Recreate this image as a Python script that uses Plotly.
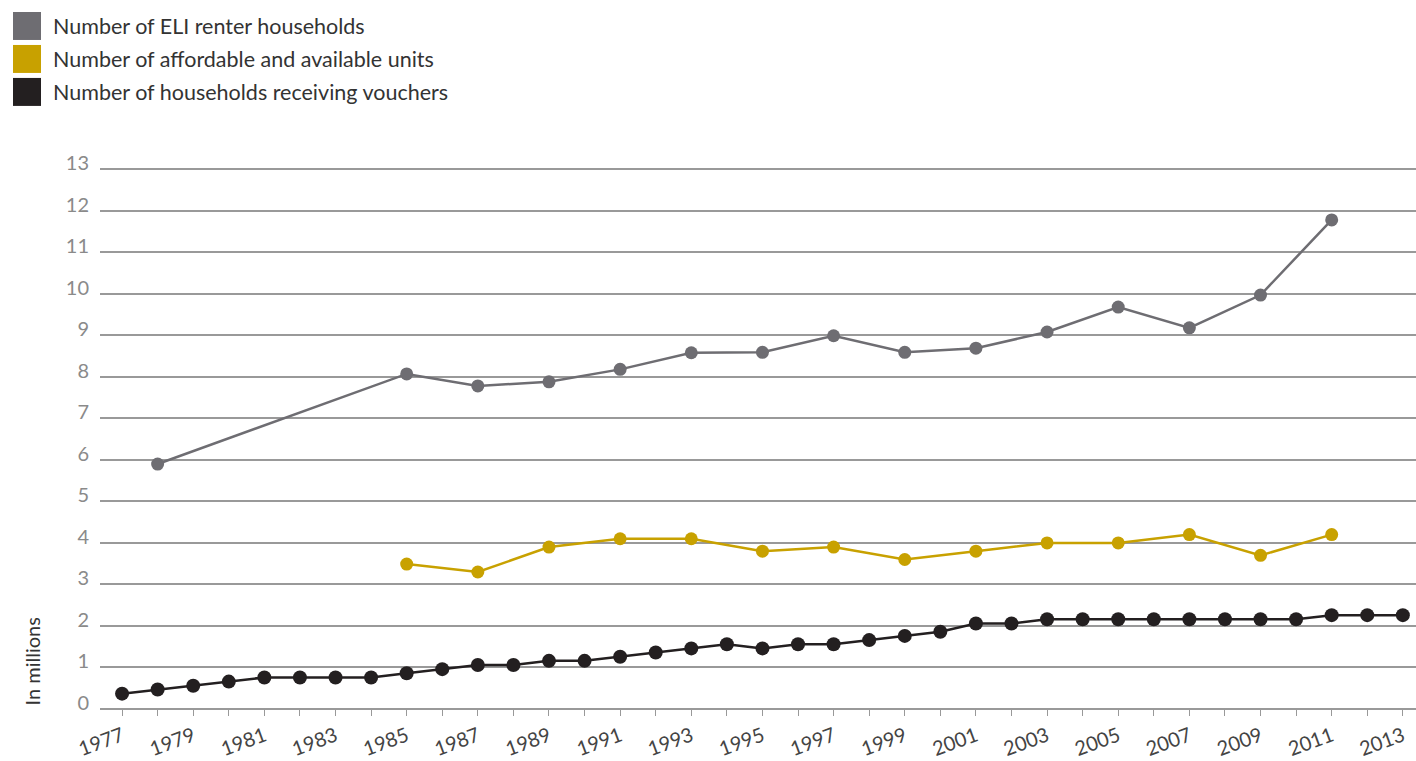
import plotly.graph_objects as go

# ---- data ----
voucher_years = list(range(1977, 2014))
voucher_vals = [0.37, 0.47, 0.56, 0.66, 0.76, 0.76, 0.76, 0.76, 0.86, 0.96,
                1.06, 1.06, 1.16, 1.16, 1.26, 1.36, 1.46, 1.56, 1.46, 1.56,
                1.56, 1.66, 1.76, 1.86, 2.06, 2.06, 2.16, 2.16, 2.16, 2.16,
                2.16, 2.16, 2.16, 2.16, 2.26, 2.26, 2.26]

eli_years = [1978, 1985, 1987, 1989, 1991, 1993, 1995, 1997, 1999, 2001, 2003, 2005, 2007, 2009, 2011]
eli_vals = [5.9, 8.07, 7.78, 7.88, 8.18, 8.58, 8.59, 8.99, 8.59, 8.69, 9.08, 9.68, 9.18, 9.97, 11.78]

afford_years = [1985, 1987, 1989, 1991, 1993, 1995, 1997, 1999, 2001, 2003, 2005, 2007, 2009, 2011]
afford_vals = [3.49, 3.3, 3.9, 4.1, 4.1, 3.8, 3.9, 3.6, 3.8, 4.0, 4.0, 4.2, 3.7, 4.2]

series_names = ["Number of ELI renter households",
                "Number of affordable and available units",
                "Number of households receiving vouchers"]
colors = ["#6e6d72", "#c8a100", "#231f20"]

FONT = "Lato, 'Open Sans', sans-serif"

PX_PER_UNIT = 41.55
PLOT_BOT = 709.5
Y_TOP = 13.15
PLOT_TOP = PLOT_BOT - Y_TOP * PX_PER_UNIT
PLOT_H = PLOT_BOT - PLOT_TOP

fig = go.Figure()
fig.add_trace(go.Scatter(x=eli_years, y=eli_vals, mode="lines+markers", name=series_names[0],
                         line=dict(color=colors[0], width=2.5),
                         marker=dict(color=colors[0], size=13), showlegend=False))
fig.add_trace(go.Scatter(x=afford_years, y=afford_vals, mode="lines+markers", name=series_names[1],
                         line=dict(color=colors[1], width=2.5),
                         marker=dict(color=colors[1], size=13), showlegend=False))
fig.add_trace(go.Scatter(x=voucher_years, y=voucher_vals, mode="lines+markers", name=series_names[2],
                         line=dict(color=colors[2], width=2.5),
                         marker=dict(color=colors[2], size=14), showlegend=False))


def py(pix):
    return (PLOT_BOT - pix) / PLOT_H


def px(pix):
    return (pix - 100) / 1316


# custom legend (squares + text)
legend_y = [26, 59, 92]
for name, col, yy in zip(series_names, colors, legend_y):
    fig.add_shape(type="rect", xref="paper", yref="paper",
                  x0=px(13), x1=px(41), y0=py(yy - 14), y1=py(yy + 14),
                  fillcolor=col, line=dict(width=0))
    fig.add_annotation(xref="paper", yref="paper", x=px(51), y=py(yy),
                       text=name, showarrow=False, xanchor="left", yanchor="middle",
                       font=dict(family=FONT, size=21.5, color="#333333"))

fig.add_annotation(xref="paper", yref="paper", x=px(32), y=py(662),
                   text="In millions", showarrow=False, textangle=-90,
                   xanchor="center", yanchor="middle",
                   font=dict(family=FONT, size=20, color="#333333"))

fig.update_layout(
    width=1416, height=761,
    margin=dict(l=100, r=0, t=PLOT_TOP, b=761 - PLOT_BOT, autoexpand=False),
    paper_bgcolor="white", plot_bgcolor="white",
    font=dict(family=FONT),
    xaxis=dict(range=[1976.38, 2013.37], tick0=1977, dtick=2, tickangle=-20,
               automargin=False,
               showgrid=False, zeroline=False, showline=False,
               ticks="outside", ticklen=6, tickcolor="#999999", tickwidth=1.2,
               minor=dict(dtick=1, ticks="outside", ticklen=6, tickcolor="#999999", tickwidth=1.2),
               ticklabelstandoff=1,
               tickfont=dict(family=FONT, size=20, color="#444444")),
    yaxis=dict(range=[0, Y_TOP], dtick=1, showgrid=True, gridcolor="#999999", gridwidth=1.5,
               automargin=False,
               zeroline=True, zerolinecolor="#999999", zerolinewidth=1.5,
               showline=False, ticks="", ticklabelstandoff=10, ticklabelshift=-6,
               tickfont=dict(family=FONT, size=20, color="#8a8a8a")),
)

fig.write_html("out.html")
